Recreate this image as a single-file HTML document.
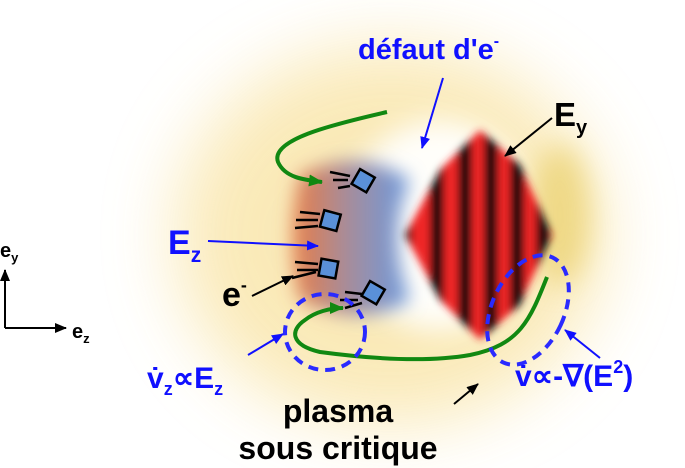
<!DOCTYPE html>
<html><head><meta charset="utf-8"><style>
html,body{margin:0;padding:0;background:#fff;}
svg{display:block;}
text{font-family:"Liberation Sans",sans-serif;font-weight:bold;}
</style></head><body>
<svg width="685" height="468" viewBox="0 0 685 468">
<defs>
<filter id="b30" x="-50%" y="-50%" width="200%" height="200%"><feGaussianBlur stdDeviation="35"/></filter>
<filter id="b14" x="-50%" y="-50%" width="200%" height="200%"><feGaussianBlur stdDeviation="14"/></filter>
<filter id="b10" x="-50%" y="-50%" width="200%" height="200%"><feGaussianBlur stdDeviation="9"/></filter>
<filter id="b4" x="-20%" y="-20%" width="140%" height="140%"><feGaussianBlur stdDeviation="4"/></filter>
<linearGradient id="ob" x1="0" x2="1"><stop offset="0" stop-color="#e87c45"/><stop offset="0.45" stop-color="#a88c98"/><stop offset="1" stop-color="#6a9ae0"/></linearGradient>
<clipPath id="env"><path d="M405,235 L440,170 L480,130 L520,165 L552,235 L520,305 L480,340 L440,300 Z"/></clipPath>
<marker id="ab" markerUnits="userSpaceOnUse" markerWidth="12" markerHeight="10" refX="11" refY="5" orient="auto"><path d="M0,0 L12,5 L0,10 Z" fill="#1010ff"/></marker>
<marker id="ak" markerUnits="userSpaceOnUse" markerWidth="12" markerHeight="10" refX="11" refY="5" orient="auto"><path d="M0,0 L12,5 L0,10 Z" fill="#000"/></marker>
<marker id="ag" markerUnits="userSpaceOnUse" markerWidth="14" markerHeight="12" refX="13" refY="6" orient="auto"><path d="M0,0 L14,6 L0,12 Z" fill="#118811"/></marker>
</defs>
<g>
<ellipse cx="390" cy="235" rx="215" ry="190" fill="#f9e6ac" opacity="0.85" filter="url(#b30)"/>
<ellipse cx="440" cy="225" rx="95" ry="105" fill="#fffefa" filter="url(#b14)"/>
<ellipse cx="560" cy="215" rx="30" ry="70" fill="#ecd478" opacity="0.8" filter="url(#b14)"/>
</g>
<g>
<path d="M300,175 Q360,145 410,180 Q385,235 410,300 Q360,330 300,300 Q285,240 300,175 Z" fill="url(#ob)" filter="url(#b10)"/>
</g>
<g filter="url(#b4)">
<g clip-path="url(#env)">
<rect x="400" y="120" width="160" height="230" fill="#f02828"/>
<rect x="430" y="120" width="14" height="230" fill="#111"/>
<rect x="458" y="120" width="14" height="230" fill="#111"/>
<rect x="484" y="120" width="14" height="230" fill="#111"/>
<rect x="510" y="120" width="14" height="230" fill="#111"/>
<rect x="536" y="120" width="14" height="230" fill="#111"/>
<rect x="400" y="120" width="12" height="230" fill="#111"/>
</g></g>
<g>
<path d="M387,112 C330,125 270,140 278,162 C285,178 305,180 322,182" fill="none" stroke="#118811" stroke-width="4" marker-end="url(#ag)"/>
</g>
<g>
<path d="M547,277 C530,320 520,345 470,355 C430,362 380,360 320,352 C290,345 290,330 305,320 C315,312 330,308 343,308" fill="none" stroke="#118811" stroke-width="4" marker-end="url(#ag)"/>
</g>
<g stroke="#000" stroke-width="2.5">
<rect x="355" y="172" width="17" height="17" fill="#5a90d8" transform="rotate(30 363 180)"/>
<rect x="322" y="212" width="17" height="17" fill="#5a90d8" transform="rotate(15 330 220)"/>
<rect x="320" y="260" width="17" height="17" fill="#5a90d8" transform="rotate(10 328 268)"/>
<rect x="365" y="284" width="17" height="17" fill="#5a90d8" transform="rotate(30 373 292)"/>
<path d="M330,172 L350,176 M333,180 L348,180 M338,188 L350,186 M300,212 L320,214 M296,220 L318,220 M295,228 L318,226 M295,262 L318,264 M297,270 L318,270 M292,278 L316,272 M345,292 L362,294 M340,300 L358,300 M345,308 L362,303"/>
</g>
<g fill="none" stroke="#2a2aff" stroke-width="4" stroke-dasharray="10 7">
<ellipse cx="325" cy="332" rx="40" ry="38"/>
<ellipse cx="528" cy="310" rx="36" ry="58" transform="rotate(25 528 310)"/>
</g>
<g stroke-width="2">
<path d="M443,78 L422,148" stroke="#1010ff" marker-end="url(#ab)"/>
<path d="M208,241 L318,246" stroke="#1010ff" marker-end="url(#ab)"/>
<path d="M248,355 L283,334" stroke="#1010ff" marker-end="url(#ab)"/>
<path d="M600,358 L565,330" stroke="#1010ff" marker-end="url(#ab)"/>
<path d="M552,118 L505,156" stroke="#000" marker-end="url(#ak)"/>
<path d="M252,296 L293,276" stroke="#000" marker-end="url(#ak)"/>
<path d="M454,404 L478,384" stroke="#000" marker-end="url(#ak)"/>
</g>
<g stroke="#000" stroke-width="2">
<path d="M5,328 L5,270" marker-end="url(#ak)"/>
<path d="M5,328 L66,328" marker-end="url(#ak)"/>
</g>
<text x="0" y="257" font-size="20" fill="#000">e<tspan font-size="13" dy="5">y</tspan></text>
<text x="72" y="338" font-size="20" fill="#000">e<tspan font-size="13" dy="5">z</tspan></text>
<text x="358" y="59" font-size="29" fill="#1010ff">défaut d'e<tspan font-size="16" dy="-13">-</tspan></text>
<text x="554" y="126" font-size="33" fill="#000">E<tspan font-size="20" dy="8">y</tspan></text>
<text x="168" y="254" font-size="34" fill="#1010ff">E<tspan font-size="21" dy="8">z</tspan></text>
<text x="222" y="306" font-size="34" fill="#000">e<tspan font-size="18" dy="-15">-</tspan></text>
<text x="147" y="388" font-size="30" fill="#1010ff">v̇<tspan font-size="18" dy="7">z</tspan><tspan dy="-7">∝E</tspan><tspan font-size="18" dy="7">z</tspan></text>
<text x="515" y="386" font-size="30" fill="#1010ff">v̇∝-∇(E<tspan font-size="18" dy="-13">2</tspan><tspan dy="13">)</tspan></text>
<text x="338" y="422" font-size="32" fill="#000" text-anchor="middle">plasma</text>
<text x="338" y="459" font-size="32" fill="#000" text-anchor="middle">sous critique</text>
</svg>
</body></html>
